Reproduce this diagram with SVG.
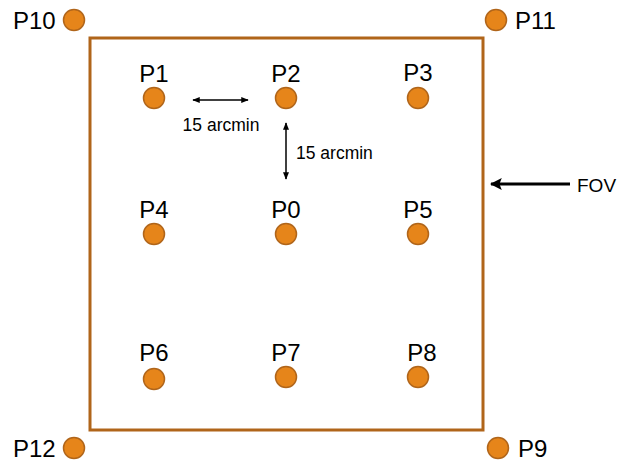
<svg xmlns="http://www.w3.org/2000/svg" width="619" height="463" viewBox="0 0 619 463">
<style>
.pt{fill:#E6851A;stroke:#B0651A;stroke-width:1.5}
.lb{font-family:"Liberation Sans",Arial,sans-serif;font-size:24px;fill:#000}
.sm{font-family:"Liberation Sans",Arial,sans-serif;font-size:17.5px;fill:#000}
.c{text-anchor:middle}
</style>
<defs>
<marker id="ah" viewBox="0 0 10 10" refX="9" refY="5" markerWidth="5" markerHeight="5" orient="auto-start-reverse" markerUnits="strokeWidth">
<path d="M0,1 L10,5 L0,9 Z" fill="#000"/>
</marker>
<marker id="ahb" viewBox="0 0 10 10" refX="9" refY="5" markerWidth="4" markerHeight="4" orient="auto" markerUnits="strokeWidth">
<path d="M0,0 L10,5 L0,10 L2,5 Z" fill="#000"/>
</marker>
</defs>
<rect id="fov-box" x="90" y="38" width="393" height="392" fill="none" stroke="#B0651A" stroke-width="3"/>
<g id="connectors">
<line x1="193" y1="100" x2="248" y2="100" stroke="#000" stroke-width="1.5" marker-start="url(#ah)" marker-end="url(#ah)"/>
<line x1="286" y1="123" x2="286" y2="179" stroke="#000" stroke-width="1.5" marker-start="url(#ah)" marker-end="url(#ah)"/>
<line x1="570" y1="184" x2="491" y2="184" stroke="#000" stroke-width="3" marker-end="url(#ahb)"/>
<text class="sm c" x="221" y="131">15 arcmin</text>
<text class="sm" x="296" y="159">15 arcmin</text>
<text class="lb" x="577" y="192" style="font-size:19px">FOV</text>
</g>
<g id="P10"><circle class="pt" cx="74" cy="20" r="10.5"/><text class="lb" x="13" y="29">P10</text></g>
<g id="P11"><circle class="pt" cx="496" cy="20" r="10.5"/><text class="lb" x="515" y="29">P11</text></g>
<g id="P12"><circle class="pt" cx="74" cy="448" r="10.5"/><text class="lb" x="13" y="457">P12</text></g>
<g id="P9"><circle class="pt" cx="498" cy="448" r="10.5"/><text class="lb" x="518" y="457">P9</text></g>
<g id="P1"><circle class="pt" cx="154" cy="98" r="10.5"/><text class="lb c" x="154" y="82">P1</text></g>
<g id="P2"><circle class="pt" cx="286" cy="98" r="10.5"/><text class="lb c" x="286" y="82">P2</text></g>
<g id="P3"><circle class="pt" cx="418" cy="98" r="10.5"/><text class="lb c" x="418" y="81">P3</text></g>
<g id="P4"><circle class="pt" cx="154" cy="234" r="10.5"/><text class="lb c" x="154" y="218">P4</text></g>
<g id="P0"><circle class="pt" cx="286" cy="234" r="10.5"/><text class="lb c" x="286" y="218">P0</text></g>
<g id="P5"><circle class="pt" cx="418" cy="234" r="10.5"/><text class="lb c" x="418" y="218">P5</text></g>
<g id="P6"><circle class="pt" cx="154" cy="379" r="10.5"/><text class="lb c" x="154" y="361">P6</text></g>
<g id="P7"><circle class="pt" cx="286" cy="377" r="10.5"/><text class="lb c" x="286" y="361">P7</text></g>
<g id="P8"><circle class="pt" cx="418" cy="377" r="10.5"/><text class="lb c" x="422" y="361">P8</text></g>
</svg>
